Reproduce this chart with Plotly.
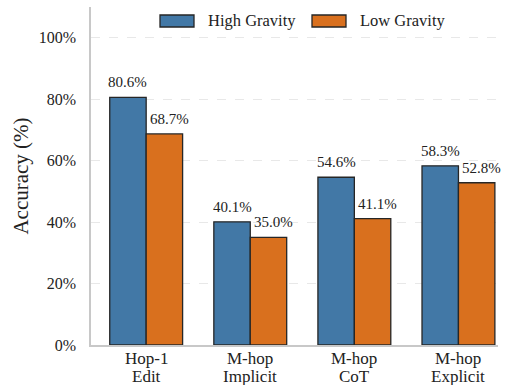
import plotly.graph_objects as go

cat_line1 = ["Hop-1", "M-hop", "M-hop", "M-hop"]
cat_line2 = ["Edit", "Implicit", "CoT", "Explicit"]
high_gravity = [80.6, 40.1, 54.6, 58.3]
low_gravity = [68.7, 35.0, 41.1, 52.8]
series_names = ["High Gravity", "Low Gravity"]
y_ticks = [0, 20, 40, 60, 80, 100]
y_tick_labels = ["0%", "20%", "40%", "60%", "80%", "100%"]

BLUE = "#4278A6"
ORANGE = "#D9701E"
EDGE = "#262626"
FONT = "Liberation Serif"
TXT = "#222222"

W, H = 509, 385
ML, MR, MT, MB = 91, 11, 7, 40

x_idx = list(range(len(cat_line1)))
half = 0.175

fig = go.Figure()
fig.add_trace(go.Bar(x=[i - half for i in x_idx], y=high_gravity, width=0.35, name=series_names[0],
                     marker=dict(color=BLUE, line=dict(color=EDGE, width=1.3)), showlegend=False))
fig.add_trace(go.Bar(x=[i + half for i in x_idx], y=low_gravity, width=0.35, name=series_names[1],
                     marker=dict(color=ORANGE, line=dict(color=EDGE, width=1.3)), showlegend=False))

def px(x):
    return (x - ML) / (W - ML - MR)
def py(y):
    return (H - MB - y) / (H - MB - MT)

annotations = []
for i, v in enumerate(high_gravity):
    annotations.append(dict(x=i - half, y=v, xref="x", yref="y", text=f"{v:.1f}%", showarrow=False,
                            yanchor="bottom", yshift=5, font=dict(family=FONT, size=15, color=TXT)))
for i, v in enumerate(low_gravity):
    annotations.append(dict(x=i + half, y=v, xref="x", yref="y", text=f"{v:.1f}%", showarrow=False,
                            yanchor="bottom", yshift=5, xshift=5, font=dict(family=FONT, size=15, color=TXT)))

# two-line category labels
for i in x_idx:
    annotations.append(dict(x=i, y=py(358), xref="x", yref="paper", text=cat_line1[i], showarrow=False,
                            yanchor="middle", borderpad=0, font=dict(family=FONT, size=17, color=TXT)))
    annotations.append(dict(x=i, y=py(376.5), xref="x", yref="paper", text=cat_line2[i], showarrow=False,
                            yanchor="middle", borderpad=0, font=dict(family=FONT, size=17, color=TXT)))

# custom legend
shapes = []
legend_items = [(160, 208, BLUE, series_names[0]), (312, 360, ORANGE, series_names[1])]
for x0, tx, col, name in legend_items:
    shapes.append(dict(type="rect", xref="paper", yref="paper", x0=px(x0), x1=px(x0 + 34),
                       y0=py(27), y1=py(15), fillcolor=col, line=dict(color=EDGE, width=1.3)))
    annotations.append(dict(x=px(tx), y=py(21), xref="paper", yref="paper", text=name, showarrow=False,
                            xanchor="left", yanchor="middle", xshift=-2,
                            font=dict(family=FONT, size=16.5, color=TXT)))

fig.update_layout(
    width=W, height=H,
    margin=dict(l=ML, r=MR, t=MT, b=MB),
    paper_bgcolor="white", plot_bgcolor="white",
    barmode="overlay",
    font=dict(family=FONT, size=16, color=TXT),
    annotations=annotations,
    shapes=shapes,
    xaxis=dict(range=[-0.53, 3.38], tickmode="array", tickvals=x_idx, showticklabels=False,
               showline=True, linecolor="#c8c8c8", linewidth=1.5, showgrid=False, zeroline=False,
               ticks="", automargin=False),
    yaxis=dict(range=[0, 110], tickmode="array", tickvals=y_ticks, ticktext=y_tick_labels,
               showline=True, linecolor="#c8c8c8", linewidth=1.5, showgrid=True,
               gridcolor="#e8e8e8", griddash="dash", gridwidth=1, zeroline=False, ticks="",
               ticklabelstandoff=10,
               automargin=False, tickfont=dict(family=FONT, size=16, color=TXT),
               title=dict(text="Accuracy (%)", font=dict(family=FONT, size=21, color=TXT), standoff=4)),
)

fig.write_html("out.html", config={"displayModeBar": False},
               post_script="document.body.style.margin='0';document.body.style.overflow='hidden';")
